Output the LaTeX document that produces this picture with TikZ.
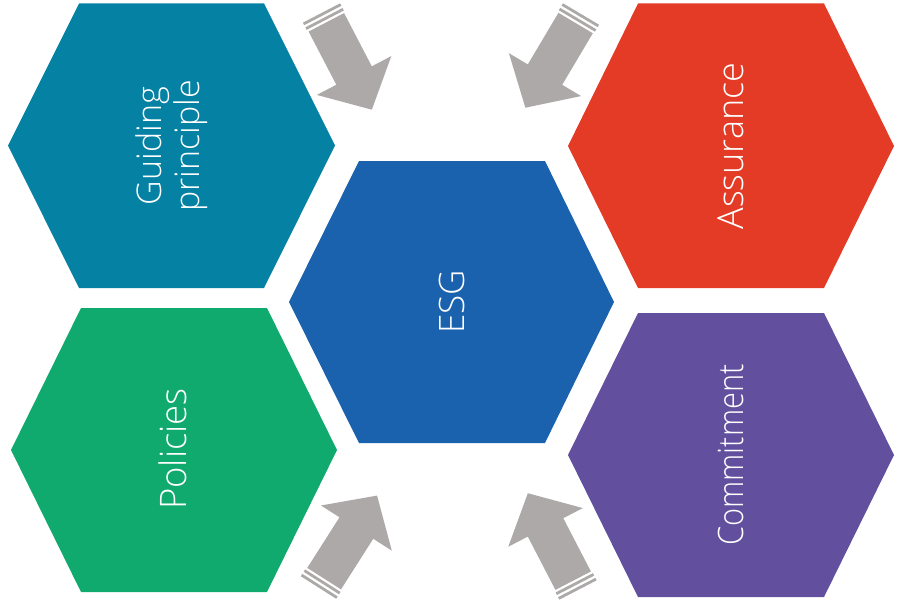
\documentclass[tikz,border=0pt]{standalone}
\usepackage{fontspec}
\setmainfont{Open Sans}[UprightFont=* Light]
\definecolor{cteal}{HTML}{0481A3}
\definecolor{cred}{HTML}{E33B26}
\definecolor{cblue}{HTML}{1B62AE}
\definecolor{cgreen}{HTML}{11AA6E}
\definecolor{cpurple}{HTML}{62509F}
\definecolor{arrgray}{HTML}{ADA9A9}
\newcommand\blockarr[3]{%
\begin{scope}[shift={(#1,#2)},rotate=#3,y=1pt]
\fill[arrgray] (0,-21) rectangle (2.8,21);
\fill[arrgray] (5.3,-21) rectangle (8.1,21);
\fill[arrgray] (10.5,-20) -- (70.5,-20) -- (70.5,-42) -- (109,0) -- (70.5,42) -- (70.5,20) -- (10.5,20) -- cycle;
\end{scope}}
\begin{document}
\begin{tikzpicture}[x=1pt,y=-1pt,
  hexlbl/.style={text=white, rotate=90, inner sep=0pt, align=center, font=\fontsize{35}{38}\selectfont}]
\useasboundingbox (0,0) rectangle (898,602);
% hexagons
\fill[cteal] (79,3.5) -- (264,3.5) -- (335,145.5) -- (264,288) -- (79,288) -- (8,145.5) -- cycle;
\fill[cred] (638,3.5) -- (824,3.5) -- (894,146) -- (824,288) -- (638,288) -- (568,146) -- cycle;
\fill[cblue] (359,161) -- (545,161) -- (614,302) -- (545,443) -- (359,443) -- (289,302) -- cycle;
\fill[cgreen] (81,308) -- (267,308) -- (337,450) -- (267,592) -- (81,592) -- (11,450) -- cycle;
\fill[cpurple] (638,313) -- (824,313) -- (894,455) -- (824,597) -- (638,597) -- (568,455) -- cycle;
% labels
\node[hexlbl, font=\fontsize{34}{38}\selectfont] (guide) at (172,146) {Guiding\\principle};
\node[hexlbl, font=\fontsize{36}{38}\selectfont] (assur) at (731,146) {Assurance};
\node[hexlbl] (esg) at (452,302) {ESG};
\node[hexlbl, font=\fontsize{36.5}{38}\selectfont] (pol) at (173,449) {Policies};
\node[hexlbl] (comm) at (731,455) {\scalebox{0.88}[1]{Commitment}};
% arrows
\blockarr{321.5}{13}{-62.5}
\blockarr{581}{14}{-120.7}
\blockarr{318.5}{587.5}{57.5}
\blockarr{578}{590}{117.4}
\end{tikzpicture}
\end{document}
